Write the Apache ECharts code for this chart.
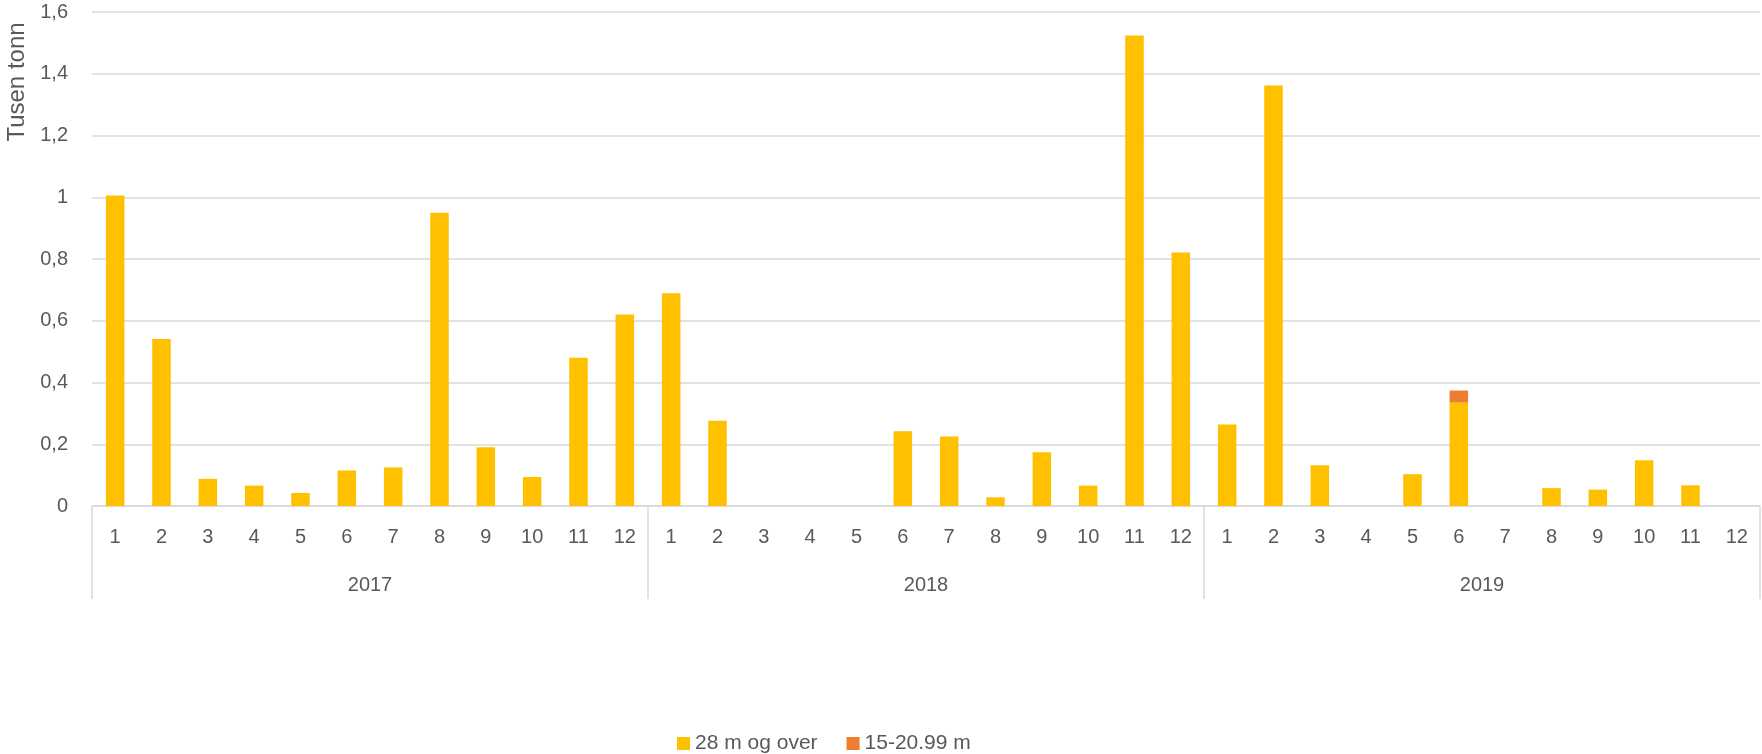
<!DOCTYPE html>
<html>
<head>
<meta charset="utf-8">
<script src="https://cdn.jsdelivr.net/npm/echarts@6/dist/echarts.min.js"></script>
<style>html,body{margin:0;padding:0;background:#fff;}#c{width:1762px;height:754px;}</style>
</head>
<body>
<div id="c"></div>
<script>
var years = ['2017', '2018', '2019'];
var months = ['1','2','3','4','5','6','7','8','9','10','11','12'];
var yTicks = [0, 0.2, 0.4, 0.6, 0.8, 1, 1.2, 1.4, 1.6];
var seriesNames = ['28 m og over', '15-20.99 m'];
var axisTitle = 'Tusen tonn';
var over28 = [
  1.006, 0.541, 0.088, 0.066, 0.042, 0.115, 0.125, 0.950, 0.190, 0.094, 0.480, 0.620,
  0.689, 0.276, 0, 0, 0, 0.242, 0.225, 0.028, 0.174, 0.066, 1.524, 0.821,
  0.264, 1.362, 0.132, 0, 0.103, 0.335, 0, 0.058, 0.053, 0.148, 0.067, 0
];
var m15to21 = [
  0, 0, 0, 0, 0, 0, 0, 0, 0, 0, 0, 0,
  0, 0, 0, 0, 0, 0, 0, 0, 0, 0, 0, 0,
  0, 0, 0, 0, 0, 0.039, 0, 0, 0, 0, 0, 0
];

var cats = [];
years.forEach(function (y) { months.forEach(function (m) { cats.push(y + '-' + m); }); });

var font = 'Liberation Sans, Arial, sans-serif';
var txt = '#595959';
var grid = '#d9d9d9';

var chart = echarts.init(document.getElementById('c'));
chart.setOption({
  animation: false,
  textStyle: { fontFamily: font },
  grid: { left: 92, right: 2, top: 12, bottom: 248 },
  graphic: [{
    type: 'text', x: 17, y: 82, rotation: Math.PI / 2,
    style: { text: axisTitle, fill: txt, font: '24px ' + font, textAlign: 'center', textVerticalAlign: 'middle' }
  }],
  legend: {
    left: 672, top: 728,
    itemWidth: 13, itemHeight: 13, itemGap: 29,
    icon: 'rect',
    textStyle: { color: txt, fontSize: 21, fontFamily: font },
    data: seriesNames
  },
  xAxis: [
    {
      type: 'category', data: cats, position: 'bottom',
      axisLine: { lineStyle: { color: grid, width: 1.5 } },
      axisTick: { show: false },
      axisLabel: { color: txt, fontSize: 20, margin: 21, interval: 0,
        formatter: function (v) { return v.split('-')[1]; } }
    },
    {
      type: 'category', data: years, position: 'bottom',
      axisLine: { show: false },
      axisTick: { show: true, length: 93, lineStyle: { color: grid, width: 1.5 } },
      axisLabel: { color: txt, fontSize: 20, margin: 69 }
    }
  ],
  yAxis: {
    type: 'value', min: yTicks[0], max: yTicks[yTicks.length - 1], interval: 0.2,
    axisLine: { show: false }, axisTick: { show: false },
    splitLine: { lineStyle: { color: grid, width: 1.5 } },
    axisLabel: { color: txt, fontSize: 20, margin: 24,
      formatter: function (v) { return String(Math.round(v * 10) / 10).replace('.', ','); } }
  },
  series: [
    { name: seriesNames[0], type: 'bar', stack: 'a', data: over28, barCategoryGap: '60%',
      itemStyle: { color: '#FFC000' } },
    { name: seriesNames[1], type: 'bar', stack: 'a', data: m15to21, barCategoryGap: '60%',
      itemStyle: { color: '#ED7D31' } }
  ]
});
</script>
</body>
</html>
